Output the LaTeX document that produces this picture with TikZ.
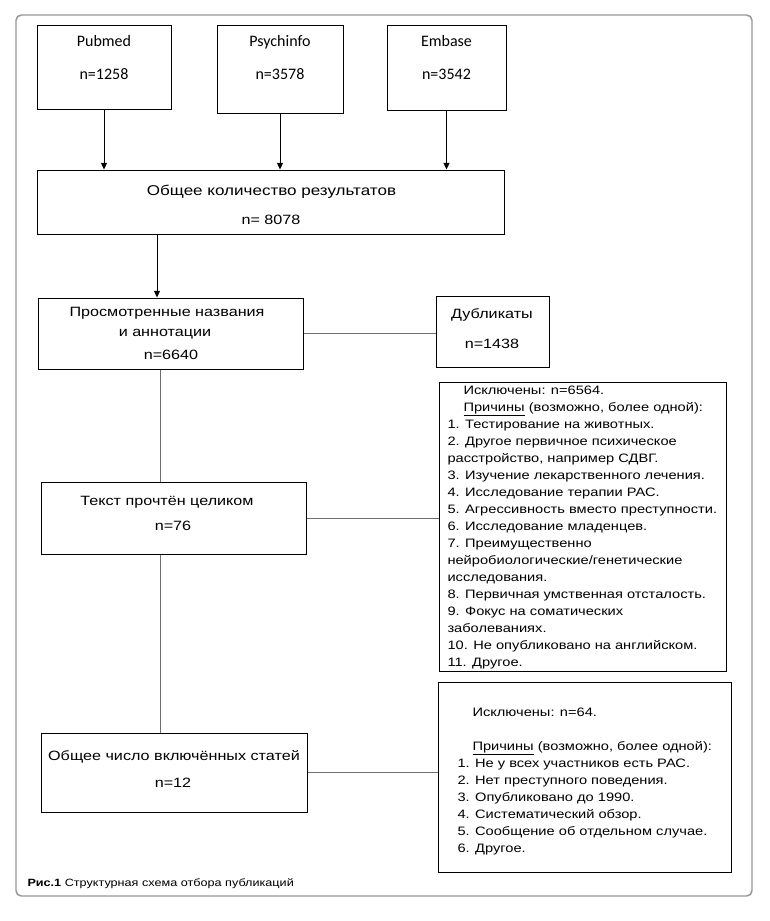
\documentclass[tikz,border=0pt]{standalone}
\usepackage{fontspec}
\setmainfont{Liberation Sans}[FakeStretch=1.2]
\newfontfamily\srcfont{Carlito}
\usetikzlibrary{arrows.meta}

\definecolor{framegray}{RGB}{150,150,150}
\definecolor{linkgray}{RGB}{110,110,110}

\tikzset{every picture/.style={line width=0.75pt}}
\tikzset{
  box/.style={draw, inner sep=0pt},
  lbl/.style={inner sep=0pt, text height=1.6ex, text depth=0.25ex, font={\fontsize{10.1}{12}\selectfont}},
  title/.style={lbl, font={\fontsize{10.65}{13}\selectfont}},
  srclbl/.style={lbl, font={\srcfont\fontsize{12}{14}\selectfont}},
  reasons/.style={inner sep=0pt, align=left, anchor=north west, font={\fontsize{9.15}{12.75}\selectfont}},
  arr/.style={-{Triangle[length=5pt,width=4.5pt]}},
  link/.style={draw=linkgray},
}

\begin{document}
\begin{tikzpicture}[x=0.75pt,y=0.75pt,yscale=-1]
  \useasboundingbox (0,0) rectangle (770,921);

  %Shape: Rounded Rect
  \draw[framegray, line width=1.1pt, rounded corners=4pt] (16,15) rectangle (752,896);

  %Shape: Rectangle
  \node[box, minimum width=100.5pt, minimum height=63pt] (pubmed) at (104,67) {};
  %Shape: Rectangle
  \node[box, minimum width=94.5pt, minimum height=66pt] (psych) at (280,69) {};
  %Shape: Rectangle
  \node[box, minimum width=89.25pt, minimum height=63.75pt] (embase) at (446.5,67.5) {};
  %Shape: Rectangle
  \node[box, minimum width=350.25pt, minimum height=48pt] (total) at (270.5,202) {};
  %Shape: Rectangle
  \node[box, minimum width=198.75pt, minimum height=53.25pt] (screened) at (170.5,333.5) {};
  %Shape: Rectangle
  \node[box, minimum width=84.75pt, minimum height=53.25pt] (dupl) at (492.5,331.5) {};
  %Shape: Rectangle
  \node[box, minimum width=215.25pt, minimum height=216.75pt] (excl1) at (582.5,526.5) {};
  %Shape: Rectangle
  \node[box, minimum width=198.75pt, minimum height=54pt] (fulltext) at (173.5,518) {};
  %Shape: Rectangle
  \node[box, minimum width=199.5pt, minimum height=59.25pt] (final) at (174,772.5) {};
  %Shape: Rectangle
  \node[box, minimum width=219.75pt, minimum height=142.5pt] (excl2) at (584.5,777) {};

  \coordinate (col) at (157,0);
  \coordinate (spine) at (160,0);

  %Straight Lines with arrows
  \draw[arr] (pubmed.south) -- (pubmed.south |- total.north);
  \draw[arr] (psych.south) -- (psych.south |- total.north);
  \draw[arr] (embase.south) -- (embase.south |- total.north);
  \draw[arr] (total.south -| col) -- (screened.north -| col);

  %Straight Lines
  \draw[link] (screened.east) -- (screened.east -| dupl.west);
  \draw[link] (screened.south -| spine) -- (fulltext.north -| spine);
  \draw[link] (fulltext.east) -- (fulltext.east -| excl1.west);
  \draw[link] (fulltext.south -| spine) -- (final.north -| spine);
  \draw[link] (final.east) -- (final.east -| excl2.west);

  % Text Node
  \node[srclbl] (pubmed-t) at (104,42) {Pubmed};
  \node[srclbl] (pubmed-n) at (104,75) {n=1258};
  % Text Node
  \node[srclbl] (psych-t) at (280,42) {Psychinfo};
  \node[srclbl] (psych-n) at (280,75) {n=3578};
  % Text Node
  \node[srclbl] (embase-t) at (446.5,42) {Embase};
  \node[srclbl] (embase-n) at (446.5,75) {n=3542};
  % Text Node
  \node[title] (total-t) at (271.5,191) {Общее количество результатов};
  \node[lbl] (total-n) at (271,220) {n= 8078};
  % Text Node
  \node[lbl] (screened-t1) at (167,312) {Просмотренные названия};
  \node[lbl] (screened-t2) at (165,332) {и аннотации};
  \node[lbl] (screened-n) at (171,355) {n=6640};
  % Text Node
  \node[lbl] (dupl-t) at (492,314) {Дубликаты};
  \node[lbl] (dupl-n) at (492,344) {n=1438};
  % Text Node
  \node[lbl] (fulltext-t) at (167,501) {Текст прочтён целиком};
  \node[lbl] (fulltext-n) at (173,526) {n=76};
  % Text Node
  \node[lbl] (final-t) at (174,756) {Общее число включённых статей};
  \node[lbl] (final-n) at (173,783) {n=12};

  % Text Node
  \node[reasons] (excl1-t) at (447,385) {\hspace*{12pt}Исключены: n=6564.\\
    \hspace*{12pt}\underline{Причины} (возможно, более одной):\\
    1. Тестирование на животных.\\
    2. Другое первичное психическое\\
    расстройство, например СДВГ.\\
    3. Изучение лекарственного лечения.\\
    4. Исследование терапии РАС.\\
    5. Агрессивность вместо преступности.\\
    6. Исследование младенцев.\\
    7. Преимущественно\\
    нейробиологические/генетические\\
    исследования.\\
    8. Первичная умственная отсталость.\\
    9. Фокус на соматических\\
    заболеваниях.\\
    10. Не опубликовано на английском.\\
    11. Другое.};
  % Text Node
  \node[reasons] (excl2-t) at (457,707) {\hspace*{11.25pt}Исключены: n=64.\\[12.75pt]
    \hspace*{11.25pt}\underline{Причины} (возможно, более одной):\\
    1. Не у всех участников есть РАС.\\
    2. Нет преступного поведения.\\
    3. Опубликовано до 1990.\\
    4. Систематический обзор.\\
    5. Сообщение об отдельном случае.\\
    6. Другое.};

  % Text Node
  \node[anchor=base west, inner sep=0pt, font={\fontsize{7.9}{9.5}\selectfont}] (caption) at (27,886) {\textbf{Рис.1} Структурная схема отбора публикаций};

\end{tikzpicture}
\end{document}
